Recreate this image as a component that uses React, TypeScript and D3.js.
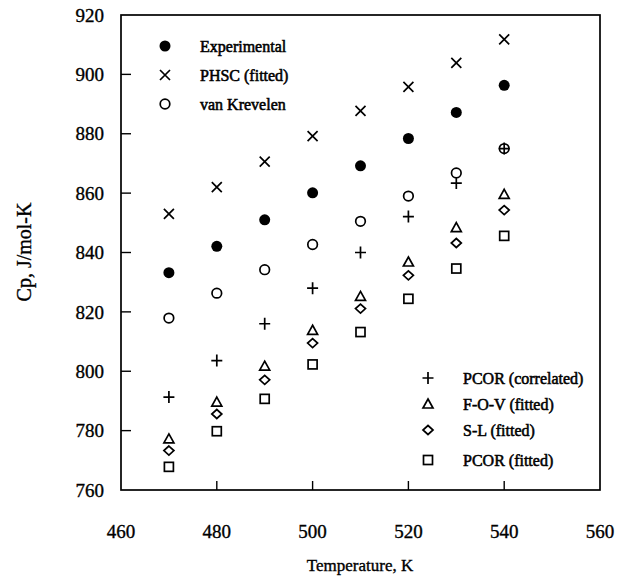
import React from 'react';
import * as d3 from 'd3';

// Cp vs temperature
const temps = [470, 480, 490, 500, 510, 520, 530, 540];
const experimental = [833.2, 842.1, 851, 860.1, 869.2, 878.4, 887.2, 896.3];
const phsc = [853, 862, 870.6, 879.2, 887.7, 895.8, 903.9, 911.8];
const vanKrevelen = [817.9, 826.3, 834.2, 842.7, 850.5, 859, 866.8, 875];
const pcorCorrelated = [791.3, 803.6, 816, 828, 840, 852.1, 863.4, 875];
const fov = [777.2, 789.6, 801.7, 813.8, 825.2, 836.8, 848.4, 859.6];
const sl = [773.3, 785.6, 797.1, 809.5, 821.1, 832.3, 843.2, 854.3];
const pcorFitted = [767.8, 779.8, 790.7, 802.3, 813.2, 824.4, 834.6, 845.6];

const xTicks = [460, 480, 500, 520, 540, 560];
const yTicks = [760, 780, 800, 820, 840, 860, 880, 900, 920];

const width = 617;
const height = 579;
const margin = { top: 15, right: 17, bottom: 89, left: 121 };
const font = '"Liberation Serif", "Times New Roman", serif';

type Kind = 'dot' | 'cross' | 'circle' | 'plus' | 'triangle' | 'diamond' | 'square';

const Marker = ({ kind, x, y }: { kind: Kind; x: number; y: number }) => {
  const sw = 1.7;
  switch (kind) {
    case 'dot':
      return <circle cx={x} cy={y} r={5.5} fill="#000" />;
    case 'circle':
      return <circle cx={x} cy={y} r={4.8} fill="none" stroke="#000" strokeWidth={sw} />;
    case 'cross':
      return (
        <path d={`M${x - 5},${y - 5}L${x + 5},${y + 5}M${x - 5},${y + 5}L${x + 5},${y - 5}`}
          stroke="#000" strokeWidth={sw} />
      );
    case 'plus':
      return (
        <path d={`M${x - 5.5},${y}L${x + 5.5},${y}M${x},${y - 6}L${x},${y + 6}`}
          stroke="#000" strokeWidth={sw} />
      );
    case 'triangle':
      return (
        <path d={`M${x},${y - 5}L${x + 5},${y + 4}L${x - 5},${y + 4}Z`}
          fill="none" stroke="#000" strokeWidth={sw} />
      );
    case 'diamond':
      return (
        <path d={`M${x},${y - 4.5}L${x + 5},${y}L${x},${y + 4.5}L${x - 5},${y}Z`}
          fill="none" stroke="#000" strokeWidth={sw} />
      );
    case 'square':
      return <rect x={x - 4.5} y={y - 4.5} width={9} height={9} fill="none" stroke="#000" strokeWidth={sw} />;
  }
};

const series: { name: string; kind: Kind; values: number[] }[] = [
  { name: 'Experimental', kind: 'dot', values: experimental },
  { name: 'PHSC (fitted)', kind: 'cross', values: phsc },
  { name: 'van Krevelen', kind: 'circle', values: vanKrevelen },
  { name: 'PCOR (correlated)', kind: 'plus', values: pcorCorrelated },
  { name: 'F-O-V (fitted)', kind: 'triangle', values: fov },
  { name: 'S-L (fitted)', kind: 'diamond', values: sl },
  { name: 'PCOR (fitted)', kind: 'square', values: pcorFitted },
];

// legend rows: top-left group and bottom-right group
const legendTop = [46, 75, 104];
const legendBottom = [378, 404, 430, 460];

export default function App() {
  const x = d3.scaleLinear().domain([460, 560]).range([margin.left, width - margin.right]);
  const y = d3.scaleLinear().domain([760, 920]).range([height - margin.bottom, margin.top]);
  const x0 = x.range()[0], x1 = x.range()[1];
  const y0 = y.range()[0], y1 = y.range()[1];

  // scanned print looks heavy, thicken the glyphs a bit
  const ink = { stroke: '#000', strokeWidth: 0.35 };
  const inkLegend = { stroke: '#000', strokeWidth: 0.55 };

  return (
    <svg width={width} height={height} style={{ position: 'absolute', left: 0, top: 0, background: '#fff' }}
      fontFamily={font}>
      <rect x={0} y={0} width={width} height={height} fill="#fff" />
      {/* frame */}
      <rect x={x0} y={y1} width={x1 - x0} height={y0 - y1} fill="none" stroke="#000" strokeWidth={1.7} />
      {/* inward ticks */}
      {xTicks.slice(1, -1).map(t => (
        <line key={'xt' + t} x1={x(t)} x2={x(t)} y1={y0} y2={y0 - 9} stroke="#000" strokeWidth={1.4} />
      ))}
      {yTicks.slice(1, -1).map(t => (
        <line key={'yt' + t} x1={x0} x2={x0 + 10} y1={y(t)} y2={y(t)} stroke="#000" strokeWidth={1.4} />
      ))}
      {xTicks.map(t => (
        <text key={'xl' + t} x={x(t)} y={y0 + 48} textAnchor="middle" fontSize={19} {...ink}>{t}</text>
      ))}
      {yTicks.map(t => (
        <text key={'yl' + t} x={x0 - 17} y={y(t)} dy="0.35em" textAnchor="end" fontSize={19} {...ink}>{t}</text>
      ))}
      <text x={360} y={571} textAnchor="middle" fontSize={17} {...ink}>Temperature, K</text>
      <text transform={`translate(31,252) rotate(-90)`} textAnchor="middle" fontSize={20} {...ink}>Cp, J/mol-K</text>

      {series.map(s => (
        <g key={s.name}>
          {temps.map((t, i) => <Marker key={t} kind={s.kind} x={x(t)} y={y(s.values[i])} />)}
        </g>
      ))}

      {series.slice(0, 3).map((s, i) => (
        <g key={'lt' + s.name}>
          <Marker kind={s.kind} x={165} y={legendTop[i]} />
          <text x={200} y={legendTop[i]} dy="0.35em" fontSize={16} {...inkLegend}>{s.name}</text>
        </g>
      ))}
      {series.slice(3).map((s, i) => (
        <g key={'lb' + s.name}>
          <Marker kind={s.kind} x={428} y={legendBottom[i]} />
          <text x={463} y={legendBottom[i]} dy="0.35em" fontSize={16} {...inkLegend}>{s.name}</text>
        </g>
      ))}
    </svg>
  );
}
